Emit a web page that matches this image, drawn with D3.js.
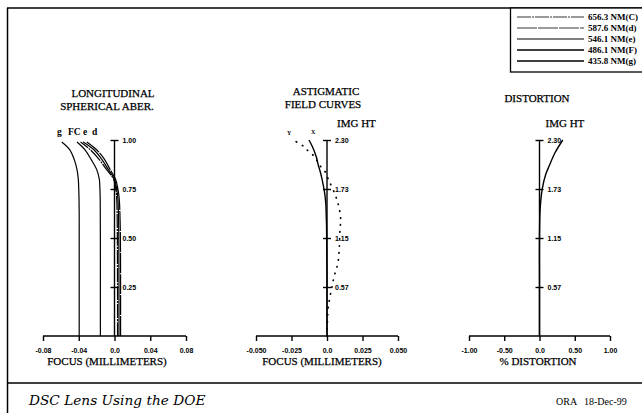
<!DOCTYPE html>
<html>
<head>
<meta charset="utf-8">
<script src="https://cdn.jsdelivr.net/npm/d3@7"></script>
<style>
  body { margin: 0; background: #fff; }
  svg { display: block; font-family: "Liberation Serif", "DejaVu Serif", serif; }
  .axis path, .axis line { stroke: #000; stroke-width: 1.4; }
  .axis text { font-size: 7px; font-weight: bold; fill: #000; }
  .title { font-size: 11px; fill: #000; stroke: #000; stroke-width: 0.25; }
  .curve { fill: none; stroke: #000; }
</style>
</head>
<body>
<div id="chart"></div>
<script>
// --- Longitudinal spherical aberration (focus mm vs relative pupil) ---
const lsaPupil = [0, 0.25, 0.5, 0.6, 0.7, 0.75, 0.8, 0.85, 0.9, 0.95, 0.99];
const lsaG = [-0.0395, -0.0395, -0.0395, -0.0395, -0.0397, -0.0400, -0.0405, -0.0420, -0.0450, -0.0500, -0.0590];
const lsaF = [-0.0158, -0.0158, -0.0158, -0.0159, -0.0160, -0.0163, -0.0170, -0.0200, -0.0260, -0.0330, -0.0420];
const lsaC = [0.0034, 0.0034, 0.0032, 0.0030, 0.0025, 0.0015, -0.0010, -0.0090, -0.0170, -0.0270, -0.0380];
const lsaE = [0.0050, 0.0050, 0.0048, 0.0045, 0.0038, 0.0025, 0.0000, -0.0070, -0.0140, -0.0230, -0.0350];
const lsaD = [0.0068, 0.0068, 0.0066, 0.0062, 0.0053, 0.0038, 0.0012, -0.0050, -0.0110, -0.0200, -0.0310];
const lsaLabels = ["g", "FC", "e", "d"];
const lsaXTicks = [-0.08, -0.04, 0, 0.04, 0.08];
const lsaYTicks = [0.25, 0.50, 0.75, 1.00];

// --- Astigmatic field curves (focus mm vs image height) ---
const fieldHt = [0, 0.34, 0.46, 0.56, 0.66, 0.74, 0.85, 0.95, 1.05, 1.27, 1.34, 1.44, 1.54, 1.66, 1.84, 1.93, 2.01, 2.10, 2.17, 2.23, 2.30];
const fieldY = [0, 0.0009, 0.0021, 0.0033, 0.0045, 0.0057, 0.0076, 0.0083, 0.0087, 0.0092, 0.0097, 0.0092, 0.0080, 0.0057, 0.0009, -0.0014, -0.0055, -0.0085, -0.0132, -0.0168, -0.0240];
const fieldX = [0, 0, 0, 0, 0, 0, -0.0001, -0.0001, -0.0002, -0.0003, -0.0004, -0.0006, -0.0008, -0.0015, -0.0035, -0.0048, -0.0062, -0.0075, -0.0090, -0.0105, -0.0127];
const fieldXTicks = [-0.050, -0.025, 0, 0.025, 0.050];
const fieldXTickLabels = ["-0.050", "-0.025", "0.0", "0.025", "0.050"];
const imgHtTicks = [0.575, 1.15, 1.725, 2.30];
const imgHtLabels = ["0.57", "1.15", "1.73", "2.30"];

// --- Distortion (% vs image height) ---
const distHt = [0, 0.57, 1.15, 1.5, 1.73, 1.9, 2.0, 2.15, 2.3];
const distVal = [0, 0, 0, 0.01, 0.04, 0.09, 0.14, 0.22, 0.33];
const distXTicks = [-1, -0.5, 0, 0.5, 1];
const distXTickLabels = ["-1.00", "-0.50", "0.0", "0.50", "1.00"];

// --- Legend ---
const legendWaves = ["656.3 NM(C)", "587.6 NM(d)", "546.1 NM(e)", "486.1 NM(F)", "435.8 NM(g)"];
const legendWidths = [0.8, 0.8, 1.2, 1.7, 1.7];
const legendDash = ["14,1,2,1", "20,1", "none", "none", "none"];

const W = 642, H = 413;
const svg = d3.select("#chart").append("svg").attr("width", W).attr("height", H);
svg.append("rect").attr("width", W).attr("height", H).attr("fill", "#fff");

// frame
svg.append("line").attr("x1", 7).attr("y1", 8).attr("x2", W).attr("y2", 8).attr("stroke", "#000").attr("stroke-width", 1.5);
svg.append("line").attr("x1", 7.5).attr("y1", 8).attr("x2", 7.5).attr("y2", H).attr("stroke", "#000").attr("stroke-width", 1.5);
svg.append("line").attr("x1", 7).attr("y1", 383).attr("x2", W).attr("y2", 383).attr("stroke", "#000").attr("stroke-width", 1.5);

const yBase = 336, yTop = 140;

function panel(opts) {
    const g = svg.append("g");
    const x = d3.scaleLinear().domain(opts.xDomain).range(opts.xRange);
    const y = d3.scaleLinear().domain([0, opts.yMax]).range([yBase, yTop]);

    // horizontal axis
    g.append("g").attr("class", "axis")
        .attr("transform", `translate(0,${yBase})`)
        .call(d3.axisBottom(x).tickValues(opts.xTicks).tickSize(5).tickPadding(7)
            .tickFormat((d, i) => opts.xLabels[i]))
        .call(a => a.select(".domain").attr("d", `M${x.range()[0]},0H${x.range()[1]}`));

    // vertical axis
    const ya = g.append("g").attr("class", "axis")
        .attr("transform", `translate(${x(0)},0)`)
        .call(d3.axisRight(y).tickValues(opts.yTicks).tickSize(4).tickPadding(4)
            .tickFormat((d, i) => opts.yLabels[i]))
        .call(a => a.select(".domain").attr("d", `M0,${yBase}V${yTop}`));
    ya.selectAll(".tick line").attr("x1", -4);

    // titles
    opts.title.forEach((t, i) => {
        g.append("text").attr("class", "title").attr("text-anchor", "middle")
            .attr("x", opts.titleX[i]).attr("y", opts.titleY + i * 13).text(t);
    });
    if (opts.imgHt) {
        g.append("text").attr("class", "title").attr("font-size", "9.5px")
            .attr("x", x(0) + opts.imgHt).attr("y", 127).text("IMG HT");
    }
    g.append("text").attr("class", "title").attr("font-size", "9px").attr("text-anchor", "middle")
        .attr("x", opts.xLabelX).attr("y", 365).text(opts.xLabel);
    return { g, x, y };
}

// Panel 1
const p1 = panel({
    xDomain: [-0.08, 0.08], xRange: [43, 186], yMax: 1,
    xTicks: lsaXTicks, xLabels: ["-0.08", "-0.04", "0.0", "0.04", "0.08"],
    yTicks: lsaYTicks, yLabels: ["0.25", "0.50", "0.75", "1.00"],
    title: ["LONGITUDINAL", "SPHERICAL ABER."], titleX: [113, 107], titleY: 97,
    xLabel: "FOCUS (MILLIMETERS)", xLabelX: 107
});
const lsaSeries = [lsaG, lsaF, lsaC, lsaE, lsaD];
const lsaDash = ["none", "none", "14,1,2,1", "none", "20,1"];
const lineLsa = vals => d3.line().curve(d3.curveCatmullRom)
    .x((d, i) => p1.x(vals[i])).y(d => p1.y(d))(lsaPupil);
lsaSeries.forEach((vals, k) => {
    p1.g.append("path").attr("class", "curve").attr("d", lineLsa(vals))
        .attr("stroke-width", 1.2).attr("stroke-dasharray", lsaDash[k]);
});
const lsaLabelX = [57, 68, 83, 92];
lsaLabels.forEach((t, i) => {
    p1.g.append("text").attr("font-size", "9.5px").attr("font-weight", "bold")
        .attr("x", lsaLabelX[i]).attr("y", 135).text(t);
});

// Panel 2
const p2 = panel({
    xDomain: [-0.05, 0.05], xRange: [256, 398], yMax: 2.30,
    xTicks: fieldXTicks, xLabels: fieldXTickLabels,
    yTicks: imgHtTicks, yLabels: imgHtLabels,
    title: ["ASTIGMATIC", "FIELD CURVES"], titleX: [326, 323], titleY: 95,
    xLabel: "FOCUS (MILLIMETERS)", xLabelX: 322, imgHt: 10
});
const lineField = vals => d3.line().curve(d3.curveCatmullRom)
    .x((d, i) => p2.x(vals[i])).y(d => p2.y(d))(fieldHt);
p2.g.append("path").attr("class", "curve").attr("d", lineField(fieldX)).attr("stroke-width", 1.4);
p2.g.append("path").attr("class", "curve").attr("d", lineField(fieldY))
    .attr("stroke-width", 1.7).attr("stroke-dasharray", "0.5,6.5").attr("stroke-linecap", "round");
p2.g.append("text").attr("font-size", "6px").attr("font-weight", "bold")
    .attr("x", 287).attr("y", 135).text("Y");
p2.g.append("text").attr("font-size", "6px").attr("font-weight", "bold")
    .attr("x", 311).attr("y", 134).text("X");

// Panel 3
const p3 = panel({
    xDomain: [-1, 1], xRange: [469, 610], yMax: 2.30,
    xTicks: distXTicks, xLabels: distXTickLabels,
    yTicks: imgHtTicks, yLabels: imgHtLabels,
    title: ["DISTORTION"], titleX: [537], titleY: 102,
    xLabel: "% DISTORTION", xLabelX: 538, imgHt: 6
});
p3.g.append("path").attr("class", "curve").attr("stroke-width", 1.4)
    .attr("d", d3.line().curve(d3.curveCatmullRom)
        .x((d, i) => p3.x(distVal[i])).y(d => p3.y(d))(distHt));

// Legend
const leg = svg.append("g");
leg.append("rect").attr("x", 510.5).attr("y", 8).attr("width", 140).attr("height", 64)
    .attr("fill", "#fff").attr("stroke", "#000").attr("stroke-width", 1.3);
legendWaves.forEach((t, i) => {
    const yy = 17 + i * 11;
    leg.append("line").attr("x1", 517).attr("x2", 584).attr("y1", yy).attr("y2", yy)
        .attr("stroke", "#000").attr("stroke-width", legendWidths[i]).attr("stroke-dasharray", legendDash[i]);
    leg.append("text").attr("x", 588).attr("y", yy + 3).attr("font-size", "9px")
        .attr("font-weight", "bold").text(t);
});

// Footer
svg.append("text").attr("x", 29).attr("y", 405).attr("font-family", "'DejaVu Serif', serif")
    .attr("font-style", "italic").attr("font-size", "13.7px").text("DSC Lens Using the DOE");
svg.append("text").attr("x", 556).attr("y", 405).attr("font-size", "10px").text("ORA");
svg.append("text").attr("x", 584).attr("y", 405).attr("font-size", "10px").text("18-Dec-99");
</script>
</body>
</html>
